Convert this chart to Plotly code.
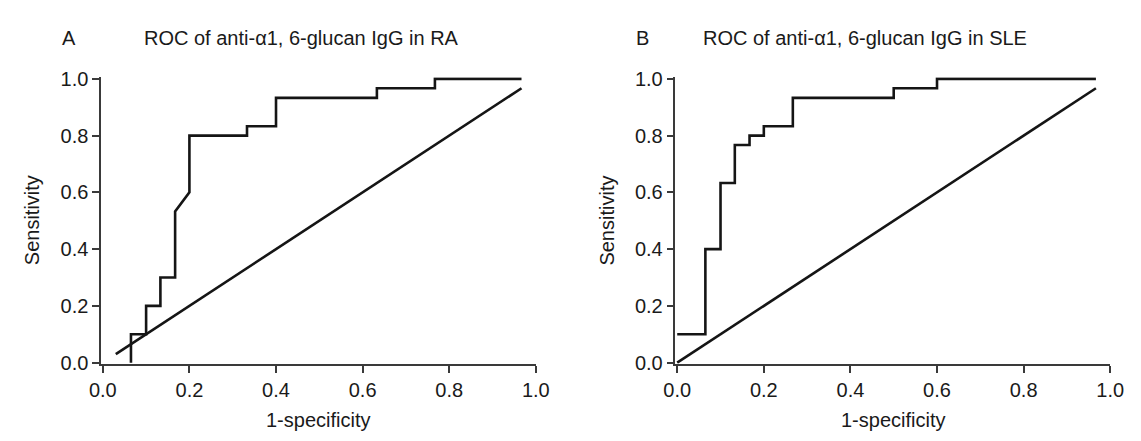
import plotly.graph_objects as go

# ---- data ----
ra_fpr = [0.065, 0.065, 0.1, 0.1, 0.133, 0.133, 0.167, 0.167, 0.2, 0.2, 0.333, 0.333,
          0.4, 0.4, 0.633, 0.633, 0.767, 0.767, 0.967]
ra_tpr = [0.0, 0.1, 0.1, 0.2, 0.2, 0.3, 0.3, 0.533, 0.6, 0.8, 0.8, 0.833,
          0.833, 0.933, 0.933, 0.967, 0.967, 1.0, 1.0]
ra_ref_x = [0.03, 0.967]
ra_ref_y = [0.03, 0.967]

sle_fpr = [0.0, 0.065, 0.065, 0.1, 0.1, 0.133, 0.133, 0.167, 0.167, 0.2, 0.2, 0.267,
           0.267, 0.5, 0.5, 0.6, 0.6, 0.967]
sle_tpr = [0.1, 0.1, 0.4, 0.4, 0.633, 0.633, 0.767, 0.767, 0.8, 0.8, 0.833, 0.833,
           0.933, 0.933, 0.967, 0.967, 1.0, 1.0]
sle_ref_x = [0.0, 0.967]
sle_ref_y = [0.0, 0.967]

tick_vals = [0.0, 0.2, 0.4, 0.6, 0.8, 1.0]
tick_text = ["0.0", "0.2", "0.4", "0.6", "0.8", "1.0"]
panel_letters = ["A", "B"]
panel_titles = ["ROC of anti-\u03b11, 6-glucan IgG in RA", "ROC of anti-\u03b11, 6-glucan IgG in SLE"]
x_title = "1-specificity"
y_title = "Sensitivity"

# page has an 8px body margin, so the figure is 16px smaller than the window
OFF = 8
W, H = 1141 - 2 * OFF, 441 - 2 * OFF
FONT = "Liberation Sans, Arial, sans-serif"
FS = 20
LINE = "#151515"
AXC = "#3a3a3a"


def px(v):
    return (v - OFF) / W


def py(v):
    return 1 - (v - OFF) / H


fig = go.Figure()
for (xs, ys, xa, ya) in [(ra_fpr, ra_tpr, "x", "y"), (ra_ref_x, ra_ref_y, "x", "y"),
                         (sle_fpr, sle_tpr, "x2", "y2"), (sle_ref_x, sle_ref_y, "x2", "y2")]:
    fig.add_trace(go.Scatter(x=xs, y=ys, mode="lines", xaxis=xa, yaxis=ya,
                             line=dict(color=LINE, width=2.6), showlegend=False,
                             hoverinfo="skip"))

xdom1 = [px(91), px(536)]
xdom2 = [px(679), px(1124)]
ydom = [py(371), py(71)]

axis_common = dict(showgrid=False, zeroline=False, showline=True, linecolor=AXC, linewidth=1.5,
                   ticks="outside", ticklen=7, tickwidth=1.5, tickcolor=AXC,
                   tickvals=tick_vals, ticktext=tick_text,
                   tickfont=dict(family=FONT, size=FS, color="#1a1a1a"))

fig.update_layout(
    width=W, height=H,
    margin=dict(l=0, r=0, t=0, b=0),
    paper_bgcolor="white", plot_bgcolor="white",
    xaxis=dict(domain=xdom1, range=[-0.004, 1.0], anchor="y", **axis_common),
    yaxis=dict(domain=ydom, range=[-0.004, 1.006], anchor="x", **axis_common),
    xaxis2=dict(domain=xdom2, range=[-0.004, 1.0], anchor="y2", **axis_common),
    yaxis2=dict(domain=ydom, range=[-0.004, 1.006], anchor="x2", **axis_common),
)

ann = []
letter_x = [58, 645]
title_cx = [296, 873]
ytitle_x = [21, 609]
xtitle_cx = [(91 + 536) / 2, (679 + 1124) / 2]
for i in range(2):
    ann.append(dict(text=panel_letters[i], x=px(letter_x[i]), y=py(30), xref="paper", yref="paper",
                    xanchor="center", yanchor="middle", showarrow=False,
                    font=dict(family=FONT, size=FS, color="#1a1a1a")))
    ann.append(dict(text=panel_titles[i], x=px(title_cx[i]), y=py(30), xref="paper", yref="paper",
                    xanchor="center", yanchor="middle", showarrow=False,
                    font=dict(family=FONT, size=FS, color="#1a1a1a")))
    ann.append(dict(text=x_title, x=px(xtitle_cx[i]), y=py(430), xref="paper", yref="paper",
                    xanchor="center", yanchor="middle", showarrow=False,
                    font=dict(family=FONT, size=FS, color="#1a1a1a")))
    ann.append(dict(text=y_title, x=px(ytitle_x[i]), y=py(221), xref="paper", yref="paper",
                    xanchor="center", yanchor="middle", showarrow=False, textangle=-90,
                    font=dict(family=FONT, size=FS, color="#1a1a1a")))
fig.update_layout(annotations=ann)

fig.write_html("out.html")
